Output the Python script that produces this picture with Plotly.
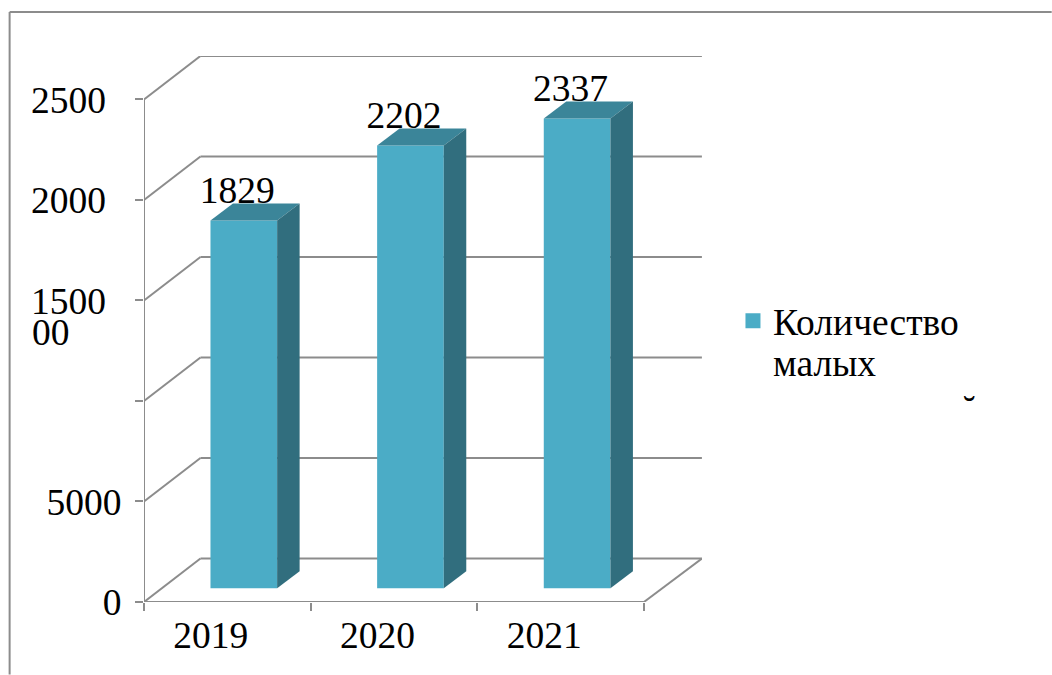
import plotly.graph_objects as go

# ---- data ----
years = ["2019", "2020", "2021"]
values = [1829, 2202, 2337]
series_name = "Количество"
series_name_rest = "малых"
tick_values = [0, 500, 1000, 1500, 2000, 2500]
label_values = [0, 500, 1500, 2000, 2500]
label_texts = ["0", "5000", "1500\u00a0\u2006", "2000\u00a0\u2006", "2500\u00a0\u2006"]

# ---- geometry, pixels of the 1052x675 page ----
W, H = 1052, 675
LEFT, RIGHT, TOP, BOTTOM = 143.5, 702.0, 56.0, 602.5
CAT_PX = 166.8          # width of one category
UNIT_PX = 0.2012        # pixels per value unit
WALL_DX, WALL_DY = 56.5, 43.5   # depth of the box
WALL_END_DX = 58.0              # right end of the back wall past the front axis
BAR_DX, BAR_DY = 22.5, 17.0     # depth of a bar
BAR_INSET_X, BAR_INSET_Y = 16.5, 13.8

GRID = "#8c8c8c"
FRONT = "#4bacc6"
TOP_FACE = "#3b8599"
SIDE = "#316e7e"
FONT = "Liberation Serif"
FS = 37.5

dxu = lambda px: px / CAT_PX
dyu = lambda px: px / UNIT_PX
xmax = dxu(RIGHT - LEFT)
ymax = dyu(BOTTOM - TOP)
n = len(years)
wx, wy = dxu(WALL_DX), dyu(WALL_DY)
wend = n + dxu(WALL_END_DX)
bx, by = dxu(BAR_DX), dyu(BAR_DY)
bar_w = 0.4
base = dyu(BAR_INSET_Y)
centers = [i + 0.5 + dxu(BAR_INSET_X) for i in range(n)]


def paper_x(p):
    return (p - LEFT) / (RIGHT - LEFT)


def paper_y(p):
    return (BOTTOM - p) / (BOTTOM - TOP)


fig = go.Figure()

shapes = []


def seg(x0, y0, x1, y1, layer="below"):
    shapes.append(dict(type="line", xref="x", yref="y", x0=x0, y0=y0, x1=x1, y1=y1,
                       layer=layer, line=dict(color=GRID, width=2)))


for t in tick_values:
    seg(0, t, wx, t + wy)            # side wall
    seg(wx, t + wy, wend, t + wy)    # back wall
seg(0, 0, 0, tick_values[-1])        # value axis
seg(0, 0, n, 0)                      # category axis
seg(n, 0, wend, wy)                  # floor edge

# page frame
for x0, y0, x1, y1 in [(9, 12, W, 12), (9, 12, 9, H)]:
    shapes.append(dict(type="line", xref="paper", yref="paper",
                       x0=paper_x(x0), x1=paper_x(x1), y0=paper_y(y0), y1=paper_y(y1),
                       layer="below", line=dict(color=GRID, width=2)))

fig.add_bar(x=centers, y=values, base=base, width=bar_w, marker=dict(color=FRONT, line_width=0),
            showlegend=False, name="Количество малых")

for c, v in zip(centers, values):
    x0, x1 = c - bar_w / 2, c + bar_w / 2
    t = base + v
    fig.add_scatter(x=[x0, x1, x1 + bx, x0 + bx, x0], y=[t, t, t + by, t + by, t], mode="lines",
                    fill="toself", fillcolor=TOP_FACE, line=dict(width=0), showlegend=False,
                    hoverinfo="skip")
    fig.add_scatter(x=[x1, x1 + bx, x1 + bx, x1, x1], y=[base, base + by, t + by, t, base], mode="lines",
                    fill="toself", fillcolor=SIDE, line=dict(width=0), showlegend=False,
                    hoverinfo="skip")

fig.add_scatter(x=[c - dxu(6.5) for c in centers], y=[base + v + dyu(27) for v in values],
                text=[str(v) for v in values], mode="text", textposition="middle center",
                textfont=dict(family=FONT, size=FS, color="black"), showlegend=False,
                cliponaxis=False, hoverinfo="skip")

# legend entry
fig.add_scatter(x=[None], y=[None], mode="markers", name=series_name,
                marker=dict(symbol="square", size=15, color=FRONT))

annotations = [
    dict(x=paper_x(29), y=paper_y(333), xref="paper", yref="paper", text="00", showarrow=False,
         xanchor="left", yanchor="middle", font=dict(family=FONT, size=FS, color="black")),
    dict(x=paper_x(970), y=paper_y(410), xref="paper", yref="paper", text="˘", showarrow=False,
         xanchor="center", yanchor="middle", font=dict(family=FONT, size=FS, color="black")),
    dict(x=paper_x(771), y=paper_y(364), xref="paper", yref="paper", text=series_name_rest, showarrow=False,
         xanchor="left", yanchor="middle", font=dict(family=FONT, size=FS, color="black")),
]

fig.update_layout(
    width=W, height=H, autosize=False,
    margin=dict(l=LEFT, r=W - RIGHT, t=TOP, b=H - BOTTOM, pad=0),
    paper_bgcolor="white", plot_bgcolor="white",
    font=dict(family=FONT, size=FS, color="black"),
    shapes=shapes, annotations=annotations,
    legend=dict(x=paper_x(733), y=paper_y(290), xanchor="left", yanchor="top", valign="top",
                bgcolor="rgba(0,0,0,0)", font=dict(family=FONT, size=FS, color="black")),
    xaxis=dict(range=[0, xmax], tickmode="array", automargin=False,
               tickvals=[i + 0.5 - dxu(16.5) for i in range(n)], ticktext=years,
               ticks="outside", ticklen=0, tickwidth=0, showgrid=False, zeroline=False, showline=False,
               ticklabelstandoff=0,
               minor=dict(tickmode="array", tickvals=list(range(n + 1)), ticks="outside", ticklen=8,
                          tickwidth=2, tickcolor=GRID, showgrid=False)),
    yaxis=dict(range=[0, ymax], tickmode="array", tickvals=label_values + [1000], automargin=False,
               ticktext=label_texts + [""], ticks="outside", ticklen=8, tickwidth=2, tickcolor=GRID,
               showgrid=False, zeroline=False, showline=False, ticklabelstandoff=6),
)

fig.write_html("out.html", post_script="document.body.style.margin='0';",
               config={"displayModeBar": False})
